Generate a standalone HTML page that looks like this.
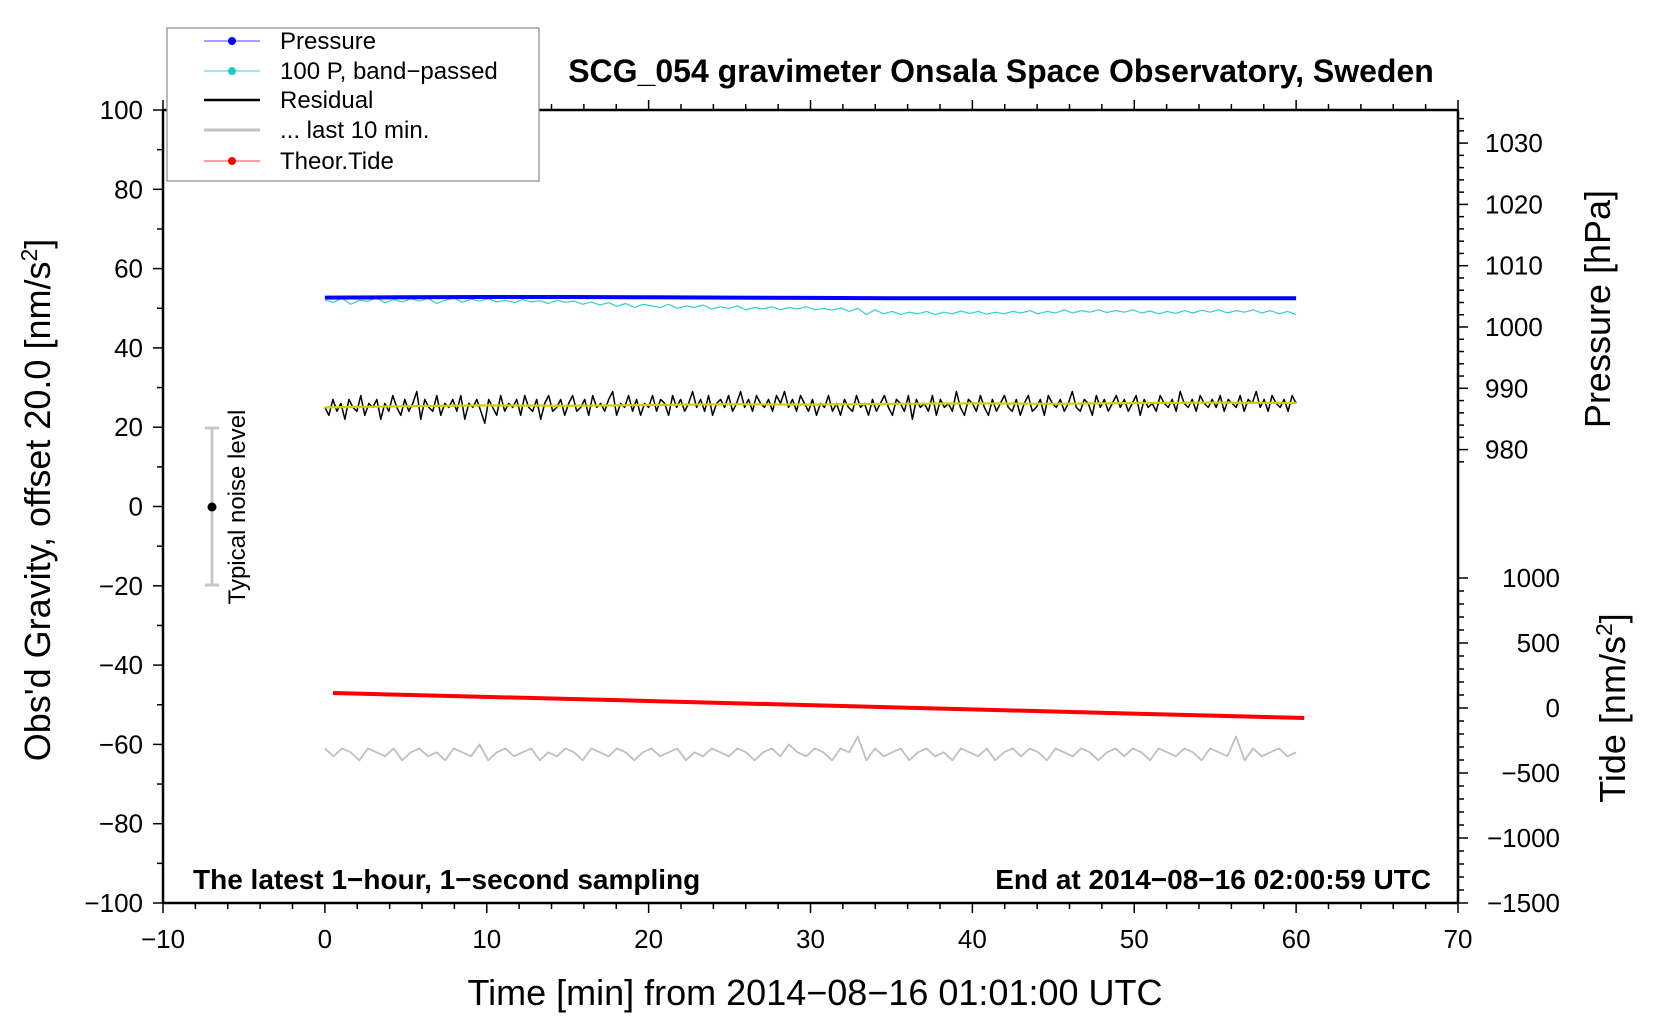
<!DOCTYPE html>
<html><head><meta charset="utf-8"><style>
html,body{margin:0;padding:0;background:#fff}
svg{display:block;font-family:"Liberation Sans",sans-serif}
</style></head><body>
<svg id="chart" width="1660" height="1020" viewBox="0 0 1660 1020" xmlns="http://www.w3.org/2000/svg">
<rect width="1660" height="1020" fill="#fff"/>
<g id="marks"></g>
<g id="axes"></g>
<text x="1001" y="82" font-size="32" font-weight="bold" text-anchor="middle">SCG_054 gravimeter Onsala Space Observatory, Sweden</text>
<text x="193" y="889" font-size="28" font-weight="bold">The latest 1−hour, 1−second sampling</text>
<text x="1431" y="889" font-size="28" font-weight="bold" text-anchor="end">End at 2014−08−16 02:00:59 UTC</text>
<text x="815" y="1005" font-size="36" text-anchor="middle">Time [min] from 2014−08−16 01:01:00 UTC</text>
<text transform="translate(50,500) rotate(-90)" font-size="36" text-anchor="middle">Obs'd Gravity, offset 20.0 [nm/s<tspan dy="-13" font-size="23">2</tspan><tspan dy="13">]</tspan></text>
<text transform="translate(1610,309) rotate(-90)" font-size="36" text-anchor="middle">Pressure [hPa]</text>
<text transform="translate(1625,708) rotate(-90)" font-size="36" text-anchor="middle">Tide [nm/s<tspan dy="-13" font-size="23">2</tspan><tspan dy="13">]</tspan></text>
<g>
<line x1="212" y1="428" x2="212" y2="585" stroke="#c8c8c8" stroke-width="3"/>
<line x1="205" y1="428" x2="219" y2="428" stroke="#c8c8c8" stroke-width="3"/>
<line x1="205" y1="585" x2="219" y2="585" stroke="#c8c8c8" stroke-width="3"/>
<circle cx="212" cy="507" r="4.5" fill="#000"/>
<text transform="translate(245,507) rotate(-90)" font-size="24" text-anchor="middle">Typical noise level</text>
</g>
<g>
<rect x="167" y="28" width="372" height="153" fill="#fff" stroke="#888" stroke-width="1.2"/>
<g><line x1="204" y1="41" x2="260" y2="41" stroke="#4040ff" stroke-width="1"/><circle cx="232" cy="41" r="4" fill="#0000ff"/><text x="280" y="49" font-size="24">Pressure</text></g>
<g><line x1="204" y1="71" x2="260" y2="71" stroke="#30d0d0" stroke-width="1"/><circle cx="232" cy="71" r="4" fill="#20c8c8"/><text x="280" y="79" font-size="24">100 P, band−passed</text></g>
<g><line x1="204" y1="100" x2="260" y2="100" stroke="#000" stroke-width="2.5"/><text x="280" y="108" font-size="24">Residual</text></g>
<g><line x1="204" y1="130" x2="260" y2="130" stroke="#c0c0c0" stroke-width="3"/><text x="280" y="138" font-size="24">... last 10 min.</text></g>
<g><line x1="204" y1="161" x2="260" y2="161" stroke="#ff4040" stroke-width="1"/><circle cx="232" cy="161" r="4" fill="#ff0000"/><text x="280" y="169" font-size="24">Theor.Tide</text></g>
</g>
</svg>
<script>
const xTicks=[-10,0,10,20,30,40,50,60,70];
const yTicks=[100,80,60,40,20,0,-20,-40,-60,-80,-100];
const pTicks=[980,990,1000,1010,1020,1030];
const tideTicks=[1000,500,0,-500,-1000,-1500];
const pressureTimes=[0,5,10,15,20,25,30,35,40,45,50,55,60];
const pressureValues=[1004.8,1004.85,1004.9,1004.9,1004.85,1004.8,1004.75,1004.7,1004.7,1004.7,1004.7,1004.7,1004.7];
const smoothTimes=[0,5,10,15,20,25,30,35,40,45,50,55,60];
const smoothValues=[25,25.3,25.5,25.4,25.6,25.8,25.7,25.9,26,25.9,26.1,26.2,26.1];
const tideTimes=[0.5,10.5,20.5,30.5,40.5,50.5,60.5];
const tideValues=[115,84,52,20,-12,-45,-77];
const residualValues=[25,23,27,24,26,22,27,25,24,28,23,26,25,27,22,26,24,28,25,23,27,24,26,29,22,27,25,24,28,23,26,25,27,24,28,22,26,25,27,24,21,27,25,23,28,24,26,25,27,23,28,25,24,27,22,26,28,24,25,27,23,26,28,24,25,27,23,28,25,26,24,27,29,23,26,25,28,24,27,23,26,25,28,24,27,26,23,28,25,27,24,26,29,25,27,24,28,23,26,27,25,28,24,26,29,25,27,24,28,26,25,27,24,28,26,29,25,27,24,28,26,24,27,23,26,25,28,24,26,23,27,25,24,28,25,26,23,27,24,26,28,25,23,27,26,24,28,22,27,25,26,24,28,23,27,25,26,24,29,25,23,27,26,24,28,25,23,27,24,26,28,25,24,27,23,26,28,24,25,27,23,28,26,25,27,24,26,29,25,24,27,26,23,28,25,27,24,26,28,25,27,24,26,28,23,27,25,26,24,28,26,25,27,24,29,26,25,27,24,28,26,25,27,25,28,24,27,26,25,28,24,27,26,29,25,27,24,28,26,25,27,24,28,26];
const grayValues=[-61,-63,-61,-62,-64,-61,-62,-63,-61,-64,-62,-61,-63,-62,-64,-61,-62,-63,-60,-64,-62,-61,-63,-62,-61,-64,-62,-63,-61,-62,-64,-61,-62,-63,-61,-62,-64,-62,-61,-63,-62,-61,-64,-62,-63,-61,-62,-63,-61,-62,-64,-62,-61,-63,-60,-62,-63,-61,-62,-64,-61,-62,-58,-64,-61,-63,-62,-61,-64,-62,-61,-63,-62,-64,-61,-62,-63,-61,-64,-62,-61,-63,-61,-62,-64,-61,-62,-63,-61,-62,-64,-62,-61,-63,-61,-62,-64,-61,-62,-63,-61,-62,-64,-61,-62,-63,-58,-64,-61,-63,-62,-61,-63,-62];
const cyanValues=[52,51.5,52.5,51,52,51.8,52.6,51.4,52.2,51.6,52.4,51.8,52.5,51.2,52,52.6,51.5,52.3,51.8,52.4,51.6,52,51.4,52.2,51.6,51.9,51.2,52,51.5,51.8,51,51.6,50.8,51.4,50.5,51.2,50.2,51,50.6,50.2,51,50,50.6,50.2,50.8,49.8,50.4,50,50.6,49.6,50.2,49.8,50.4,49.6,50.2,49.8,50.4,49.6,50,49.5,50.1,49.2,50,48.4,49.6,48.6,49.2,48.4,49,48.6,49.2,48.4,49,48.6,49.3,48.7,49.2,48.5,49,48.6,49.2,48.8,49.4,48.6,49.2,48.8,49.6,48.8,49.4,49,49.6,48.9,49.4,49,49.6,48.8,49.3,48.6,49.2,48.7,49.4,48.8,49.5,49,49.6,48.8,49.4,49,49.6,48.8,49.4,48.6,49.2,48.4];

const L=163,R=1458,T=110,B=903;
const xs=v=>L+(v+10)*(R-L)/80;
const ys=v=>T+(100-v)*(B-T)/200;
const ps=v=>327-(v-1000)*6.13;
const ts=v=>708-v*0.13;
const NS='http://www.w3.org/2000/svg';
const marks=document.getElementById('marks'), axes=document.getElementById('axes');
function mk(tag,attrs,parent){const e=document.createElementNS(NS,tag);for(const k in attrs)e.setAttribute(k,attrs[k]);parent.appendChild(e);return e;}
function poly(pts,stroke,w,name){const p=mk('polyline',{points:pts.map(q=>q[0].toFixed(1)+','+q[1].toFixed(1)).join(' '),fill:'none',stroke:stroke,'stroke-width':w,'stroke-linejoin':'round'},marks);


return p;}
const idxT=(arr,i)=>i*60/(arr.length-1);
poly(cyanValues.map((v,i)=>[xs(idxT(cyanValues,i)),ys(v)]),'#30d0d0',1.2,'band-passed-pressure-line');
poly(pressureValues.map((v,i)=>[xs(pressureTimes[i]),ps(v)]),'#0000ff',4,'pressure-line');
poly(residualValues.map((v,i)=>[xs(idxT(residualValues,i)),ys(v)]),'#000',1.5,'residual-line');
poly(smoothValues.map((v,i)=>[xs(smoothTimes[i]),ys(v)]),'#d0d000',2.2,'residual-smoothed-line');
poly(tideValues.map((v,i)=>[xs(tideTimes[i]),ts(v)]),'#ff0000',4,'theor-tide-line');
poly(grayValues.map((v,i)=>[xs(idxT(grayValues,i)),ys(v)]),'#c0c0c0',1.8,'last-10-min-line');

const ax={stroke:'#000','stroke-width':2.5};
mk('line',Object.assign({x1:L,y1:B,x2:R,y2:B},ax),axes);
mk('line',Object.assign({x1:L,y1:T,x2:R,y2:T},ax),axes);
mk('line',Object.assign({x1:L,y1:T,x2:L,y2:B},ax),axes);
mk('line',Object.assign({x1:R,y1:T,x2:R,y2:B},ax),axes);
const tk={stroke:'#000','stroke-width':1.5};
for(let v=-10;v<=70;v+=2){const big=v%10===0;const l=big?10:6;
mk('line',Object.assign({x1:xs(v),y1:B,x2:xs(v),y2:B+l},tk),axes);
mk('line',Object.assign({x1:xs(v),y1:T,x2:xs(v),y2:T-l},tk),axes);}
xTicks.forEach(v=>{const t=mk('text',{x:xs(v),y:948,'font-size':26,'text-anchor':'middle'},axes);t.textContent=(v<0?'−':'')+Math.abs(v);

});
for(let v=-100;v<=100;v+=10){const l=v%20===0?10:6;mk('line',Object.assign({x1:L-l,y1:ys(v),x2:L,y2:ys(v)},tk),axes);}
yTicks.forEach(v=>{const t=mk('text',{x:L-20,y:ys(v)+9,'font-size':26,'text-anchor':'end'},axes);t.textContent=(v<0?'−':'')+Math.abs(v);

});
for(let v=976;v<=1036;v+=2){const y=ps(v);if(y<T||y>470)continue;const l=v%10===0?10:6;mk('line',Object.assign({x1:R,y1:y,x2:R+l,y2:y},tk),axes);}
pTicks.forEach(v=>{const t=mk('text',{x:R+27,y:ps(v)+9,'font-size':26},axes);t.textContent=v;

});
for(let v=-1500;v<=1000;v+=100){const l=v%500===0?10:6;mk('line',Object.assign({x1:R,y1:ts(v),x2:R+l,y2:ts(v)},tk),axes);}
tideTicks.forEach(v=>{const t=mk('text',{x:1560,y:ts(v)+9,'font-size':26,'text-anchor':'end'},axes);t.textContent=(v<0?'−':'')+Math.abs(v);

});
</script>
</body></html>
